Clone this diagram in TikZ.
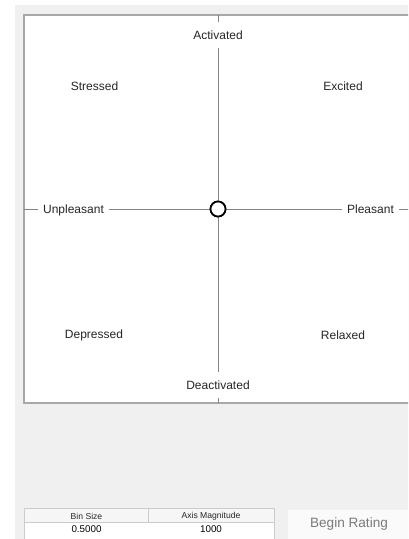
\documentclass[tikz,border=0pt]{standalone}
\usepackage{fontspec}
\setmainfont{Liberation Sans}
\definecolor{bggray}{HTML}{F0F0F0}
\definecolor{panelline}{HTML}{A8A8A8}
\definecolor{axisline}{HTML}{858585}
\definecolor{txt}{HTML}{262626}
\definecolor{btnfill}{HTML}{FAFAFA}
\definecolor{btntxt}{HTML}{7A7A7A}
\definecolor{tblline}{HTML}{CCCCCC}
\definecolor{hdrfill}{HTML}{F6F6F6}
\begin{document}
\begin{tikzpicture}[x=1bp,y=-1bp,
  axislab/.style={text=txt, font=\fontsize{12bp}{14bp}\selectfont, text height=8.6bp, text depth=0pt, inner xsep=4.5bp, inner ysep=8.7bp},
  quadlab/.style={text=txt, font=\fontsize{12bp}{14bp}\selectfont, inner sep=0pt},
  axis/.style={draw=axisline, line width=1bp},
  hdrlab/.style={text=black!85, font=\fontsize{8.6bp}{10bp}\selectfont, inner sep=0pt},
  vallab/.style={text=black, font=\fontsize{9.8bp}{11bp}\selectfont, inner sep=0pt},
  btnlab/.style={text=btntxt, font=\fontsize{13.6bp}{15bp}\selectfont, inner sep=0pt},
  centre/.style={circle, draw=black, fill=white, line width=1.7bp, minimum size=15bp, inner sep=0pt}
]
\useasboundingbox (0,0) rectangle (408,539);
\clip (0,0) rectangle (408,539);
\fill[white] (0,0) rectangle (408,539);
\fill[bggray] (15,5) rectangle (420,545);
% plot panel
\filldraw[fill=white, draw=panelline, line width=1.6bp] (24,15) rectangle (420,403);

% centre marker and axis labels
\node[centre] (c) at (218,209) {};
\node[axislab] (act) at (218,35) {Activated};
\node[axislab] (deact) at (218,385) {Deactivated};
\node[axislab] (unp) at (73.5,209) {Unpleasant};
\node[axislab] (ple) at (370.5,209) {Pleasant};
\coordinate (T) at (218,15);
\coordinate (B) at (218,403);
\coordinate (L) at (24,209);
\coordinate (R) at (420,209);

\draw[axis] (T) -- (act.north);
\draw[axis] (act.south) -- (c);
\draw[axis] (c) -- (deact.north);
\draw[axis] (deact.south) -- (B);
\draw[axis] (L) -- (unp.west);
\draw[axis] (unp.east) -- (c);
\draw[axis] (c) -- (ple.west);
\draw[axis] (ple.east) -- (R);
\node[centre] (c2) at (c) {};

% quadrant labels
\node[quadlab] (str) at (94.5,86) {Stressed};
\node[quadlab] (exc) at (343,86) {Excited};
\node[quadlab] (dep) at (94,335) {Depressed};
\node[quadlab] (rel) at (343,335) {Relaxed};

% table
\fill[hdrfill] (24,508) rectangle (274,522);
\fill[white] (24,522) rectangle (274,545);
\draw[tblline, line width=0.8bp] (24,545) -- (24,508) -- (274,508) -- (274,545);
\draw[tblline, line width=0.8bp] (24,522) -- (274,522);
\draw[tblline, line width=0.8bp] (148,508) -- (148,522);
\node[hdrlab] (h1) at (86.5,516) {Bin Size};
\node[hdrlab] (h2) at (211,516) {Axis Magnitude};
\node[vallab] (v1) at (86.5,529) {0.5000};
\node[vallab] (v2) at (211,529) {1000};

% button
\fill[btnfill] (288,510) rectangle (420,545);
\node[btnlab] (btn) at (349,524) {Begin Rating};
\end{tikzpicture}
\end{document}
